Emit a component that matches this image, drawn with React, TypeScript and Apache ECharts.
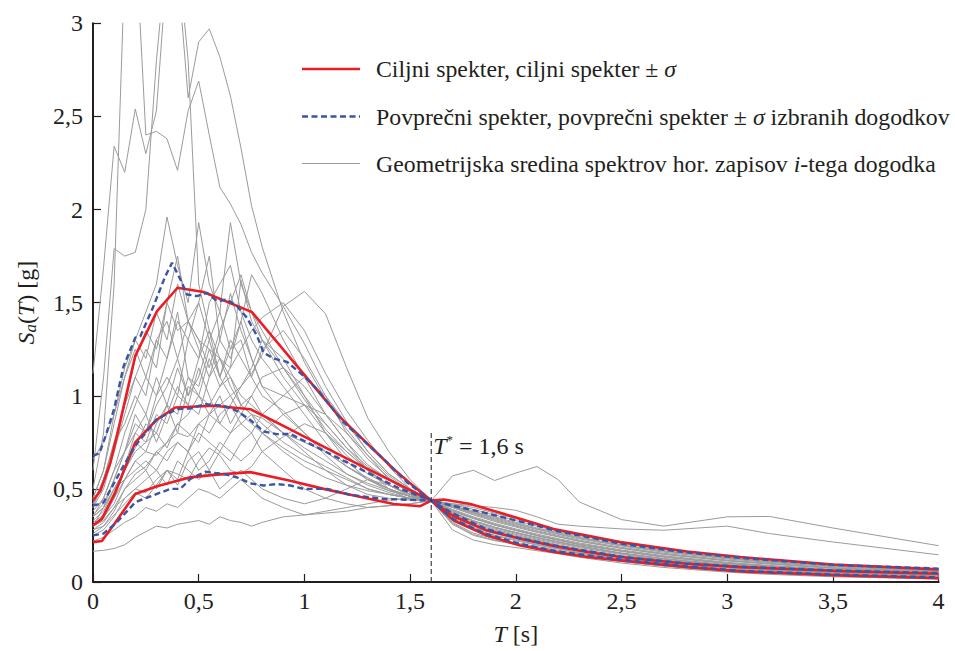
import React, { useEffect, useRef } from "react";
import * as echarts from "echarts";

// Periods (s) at which the recorded spectra are sampled
const periods = [0, 0.05, 0.1, 0.15, 0.2, 0.25, 0.3, 0.35, 0.4, 0.45, 0.5, 0.55, 0.6, 0.65, 0.7, 0.75, 0.8, 0.9, 1.0, 1.1, 1.2, 1.3, 1.4, 1.5, 1.6, 1.7, 1.8, 1.9, 2.0, 2.1, 2.2, 2.3, 2.5, 2.7, 3.0, 3.2, 3.5, 4.0];

// Geometric-mean spectra of the selected records (Sa in g)
const rec01 = [1.12, 1.69, 2.34, 2.2, 2.54, 2.3, 2.53, 3.3, 3.4, 2.8, 1.6, 1.35, 1.2, 1.1, 1.0, 0.95, 0.9, 0.8, 0.72, 0.65, 0.58, 0.53, 0.49, 0.46, 0.437, 0.4, 0.365, 0.33, 0.3, 0.27, 0.245, 0.22, 0.182, 0.15, 0.115, 0.098, 0.075, 0.053];
const rec02 = [0.5, 0.8, 1.6, 3.3, 3.5, 2.4, 2.42, 2.38, 2.21, 2.53, 2.69, 2.4, 2.12, 2.03, 1.92, 1.77, 1.66, 1.48, 1.28, 1.05, 0.86, 0.7, 0.58, 0.5, 0.437, 0.42, 0.4, 0.37, 0.34, 0.31, 0.28, 0.255, 0.215, 0.18, 0.14, 0.12, 0.095, 0.07];
const rec03 = [0.6, 1.1, 1.79, 1.75, 1.77, 2.0, 2.8, 3.4, 3.3, 2.6, 2.9, 2.97, 2.82, 2.61, 2.33, 2.02, 1.8, 1.45, 1.18, 0.98, 0.82, 0.68, 0.57, 0.49, 0.437, 0.41, 0.38, 0.35, 0.32, 0.29, 0.265, 0.24, 0.2, 0.168, 0.13, 0.11, 0.087, 0.062];
const rec04 = [0.45, 0.6, 0.9, 1.15, 1.3, 1.45, 1.6, 1.96, 1.7, 1.5, 1.93, 1.6, 1.45, 1.93, 1.6, 1.45, 1.35, 1.15, 0.98, 0.82, 0.7, 0.6, 0.52, 0.47, 0.437, 0.41, 0.375, 0.345, 0.315, 0.285, 0.26, 0.236, 0.196, 0.165, 0.128, 0.108, 0.085, 0.06];
const rec05 = [0.42, 0.55, 0.75, 0.95, 1.1, 1.25, 1.15, 1.5, 1.35, 1.4, 1.3, 1.25, 1.2, 1.15, 1.62, 1.4, 1.3, 1.15, 1.0, 0.85, 0.72, 0.62, 0.55, 0.48, 0.437, 0.385, 0.345, 0.31, 0.28, 0.252, 0.228, 0.205, 0.168, 0.137, 0.102, 0.086, 0.065, 0.045];
const rec06 = [0.3, 0.33, 0.4, 0.5, 0.58, 0.62, 0.7, 0.75, 0.8, 0.78, 0.85, 0.9, 0.95, 1.0, 1.05, 1.12, 1.22, 1.48, 1.56, 1.44, 1.15, 0.88, 0.7, 0.55, 0.437, 0.37, 0.325, 0.29, 0.262, 0.236, 0.212, 0.19, 0.152, 0.122, 0.09, 0.075, 0.056, 0.038];
const rec07 = [0.35, 0.4, 0.5, 0.55, 0.65, 0.7, 0.68, 0.75, 0.85, 0.9, 1.0, 0.95, 1.05, 1.15, 1.25, 1.35, 1.42, 1.5, 1.35, 1.12, 0.92, 0.76, 0.62, 0.5, 0.437, 0.4, 0.36, 0.325, 0.295, 0.266, 0.242, 0.218, 0.18, 0.148, 0.113, 0.096, 0.073, 0.052];
const rec08 = [0.4, 0.5, 0.7, 0.9, 1.1, 1.0, 1.3, 1.4, 1.2, 1.4, 1.5, 1.3, 1.1, 1.0, 0.9, 0.85, 0.8, 0.72, 0.65, 0.6, 0.55, 0.5, 0.47, 0.45, 0.437, 0.355, 0.305, 0.272, 0.245, 0.22, 0.196, 0.174, 0.138, 0.11, 0.08, 0.066, 0.048, 0.031];
const rec09 = [0.35, 0.45, 0.6, 0.8, 0.95, 1.1, 1.0, 1.2, 1.4, 1.3, 1.5, 1.75, 1.3, 1.55, 1.35, 1.2, 1.05, 0.9, 0.8, 0.7, 0.62, 0.55, 0.5, 0.46, 0.437, 0.38, 0.34, 0.305, 0.276, 0.248, 0.224, 0.2, 0.164, 0.133, 0.099, 0.083, 0.063, 0.043];
const rec10 = [0.3, 0.4, 0.55, 0.7, 0.9, 0.8, 1.0, 1.1, 1.0, 1.3, 1.2, 1.5, 1.6, 1.7, 1.45, 1.3, 1.2, 1.05, 0.9, 0.75, 0.62, 0.55, 0.5, 0.46, 0.437, 0.415, 0.39, 0.36, 0.33, 0.3, 0.272, 0.248, 0.208, 0.174, 0.135, 0.115, 0.09, 0.066];
const rec11 = [0.45, 0.6, 0.85, 1.1, 1.3, 1.2, 1.45, 1.3, 1.6, 1.4, 1.3, 1.15, 1.35, 1.5, 1.65, 1.45, 1.3, 1.1, 0.95, 0.8, 0.68, 0.58, 0.52, 0.47, 0.437, 0.335, 0.285, 0.252, 0.226, 0.202, 0.18, 0.158, 0.123, 0.097, 0.07, 0.056, 0.04, 0.026];
const rec12 = [0.4, 0.55, 0.75, 0.85, 1.0, 0.9, 1.1, 0.95, 1.15, 1.0, 1.2, 1.35, 1.1, 1.25, 1.4, 1.65, 1.55, 1.3, 1.1, 0.9, 0.75, 0.63, 0.55, 0.48, 0.437, 0.365, 0.318, 0.284, 0.256, 0.23, 0.207, 0.185, 0.148, 0.118, 0.087, 0.072, 0.054, 0.036];
const rec13 = [0.38, 0.45, 0.6, 0.7, 0.8, 0.75, 0.9, 0.85, 1.0, 0.95, 0.9, 1.1, 1.3, 1.2, 1.4, 1.2, 1.05, 1.0, 1.1, 1.0, 0.85, 0.7, 0.58, 0.5, 0.437, 0.315, 0.255, 0.225, 0.205, 0.185, 0.165, 0.145, 0.112, 0.087, 0.061, 0.048, 0.034, 0.021];
const rec14 = [0.33, 0.38, 0.5, 0.6, 0.75, 0.7, 0.85, 0.95, 0.8, 1.05, 1.0, 0.9, 1.0, 0.85, 0.95, 1.0, 0.9, 0.8, 0.75, 0.7, 0.62, 0.56, 0.5, 0.46, 0.437, 0.35, 0.3, 0.266, 0.24, 0.215, 0.192, 0.17, 0.135, 0.107, 0.078, 0.064, 0.046, 0.03];
const rec15 = [0.3, 0.35, 0.42, 0.55, 0.65, 0.6, 0.7, 0.65, 0.75, 0.7, 0.85, 0.8, 0.9, 0.95, 0.85, 0.8, 0.9, 1.0, 0.95, 0.85, 0.72, 0.6, 0.52, 0.47, 0.437, 0.39, 0.35, 0.315, 0.285, 0.257, 0.233, 0.21, 0.172, 0.141, 0.106, 0.089, 0.068, 0.047];
const rec16 = [0.28, 0.3, 0.38, 0.5, 0.55, 0.6, 0.5, 0.6, 0.55, 0.7, 0.6, 0.65, 0.75, 0.7, 0.65, 0.7, 0.8, 0.9, 0.95, 0.9, 0.8, 0.68, 0.55, 0.48, 0.437, 0.33, 0.28, 0.248, 0.222, 0.198, 0.177, 0.155, 0.12, 0.095, 0.068, 0.054, 0.039, 0.025];
const rec17 = [0.25, 0.28, 0.35, 0.45, 0.5, 0.55, 0.6, 0.52, 0.65, 0.6, 0.55, 0.6, 0.5, 0.55, 0.6, 0.55, 0.5, 0.45, 0.42, 0.45, 0.5, 0.55, 0.52, 0.47, 0.437, 0.28, 0.225, 0.2, 0.185, 0.168, 0.152, 0.133, 0.102, 0.078, 0.053, 0.041, 0.028, 0.016];
const rec18 = [0.165, 0.17, 0.18, 0.2, 0.24, 0.27, 0.3, 0.29, 0.31, 0.32, 0.33, 0.31, 0.35, 0.33, 0.32, 0.3, 0.32, 0.35, 0.36, 0.37, 0.38, 0.4, 0.41, 0.42, 0.437, 0.31, 0.25, 0.222, 0.202, 0.182, 0.162, 0.142, 0.11, 0.085, 0.059, 0.047, 0.033, 0.02];
const rec19 = [0.22, 0.24, 0.28, 0.32, 0.35, 0.4, 0.38, 0.42, 0.4, 0.45, 0.5, 0.48, 0.45, 0.5, 0.55, 0.5, 0.45, 0.4, 0.36, 0.38, 0.4, 0.42, 0.44, 0.45, 0.437, 0.375, 0.33, 0.295, 0.266, 0.24, 0.216, 0.193, 0.155, 0.125, 0.092, 0.077, 0.058, 0.04];
const rec20 = [0.28, 0.32, 0.4, 0.45, 0.5, 0.48, 0.55, 0.6, 0.52, 0.65, 0.7, 0.6, 0.7, 0.65, 0.75, 0.8, 0.7, 0.6, 0.5, 0.45, 0.42, 0.4, 0.41, 0.42, 0.437, 0.405, 0.37, 0.335, 0.305, 0.275, 0.25, 0.225, 0.186, 0.154, 0.118, 0.1, 0.077, 0.055];
const rec21 = [0.66, 0.75, 0.9, 1.1, 1.25, 1.1, 1.3, 1.2, 1.45, 1.1, 1.0, 1.2, 1.05, 1.1, 0.95, 0.9, 0.85, 0.75, 0.68, 0.62, 0.56, 0.5, 0.47, 0.45, 0.437, 0.36, 0.31, 0.278, 0.25, 0.225, 0.2, 0.178, 0.141, 0.113, 0.082, 0.068, 0.05, 0.033];
const rec22 = [0.35, 0.4, 0.5, 0.6, 0.7, 0.75, 0.8, 0.72, 0.85, 0.8, 0.75, 0.9, 0.85, 0.8, 0.9, 1.0, 1.1, 1.15, 1.05, 0.9, 0.75, 0.6, 0.5, 0.44, 0.437, 0.57, 0.6, 0.545, 0.585, 0.62, 0.55, 0.43, 0.335, 0.3, 0.35, 0.352, 0.29, 0.195];
const rec23 = [0.3, 0.34, 0.45, 0.55, 0.6, 0.65, 0.6, 0.7, 0.75, 0.7, 0.8, 0.75, 0.7, 0.8, 0.85, 0.9, 0.88, 0.8, 0.7, 0.6, 0.52, 0.47, 0.45, 0.44, 0.437, 0.42, 0.41, 0.4, 0.385, 0.35, 0.31, 0.3, 0.285, 0.278, 0.3, 0.26, 0.215, 0.146];
const rec24 = [0.42, 0.55, 0.7, 0.95, 1.2, 1.35, 1.25, 1.5, 1.75, 1.4, 1.25, 1.1, 1.2, 1.05, 0.95, 0.9, 0.8, 0.7, 0.62, 0.56, 0.52, 0.49, 0.47, 0.45, 0.437, 0.405, 0.372, 0.34, 0.31, 0.282, 0.256, 0.232, 0.193, 0.16, 0.124, 0.105, 0.082, 0.058];
const rec25 = [0.32, 0.36, 0.45, 0.6, 0.72, 0.85, 0.8, 0.95, 0.9, 1.1, 1.05, 1.25, 1.1, 1.3, 1.2, 1.1, 1.25, 1.35, 1.2, 1.0, 0.8, 0.66, 0.56, 0.48, 0.437, 0.385, 0.342, 0.306, 0.277, 0.25, 0.225, 0.202, 0.166, 0.135, 0.1, 0.084, 0.064, 0.044];
const rec26 = [0.26, 0.3, 0.36, 0.42, 0.48, 0.45, 0.52, 0.6, 0.58, 0.55, 0.65, 0.72, 0.68, 0.6, 0.58, 0.62, 0.7, 0.78, 0.85, 0.8, 0.7, 0.6, 0.52, 0.46, 0.437, 0.32, 0.262, 0.232, 0.21, 0.19, 0.17, 0.15, 0.116, 0.091, 0.064, 0.051, 0.036, 0.023];
const rec27 = [0.36, 0.42, 0.55, 0.7, 0.85, 0.8, 0.95, 1.05, 1.2, 1.0, 1.1, 1.3, 1.45, 1.25, 1.3, 1.1, 1.0, 0.92, 0.8, 0.68, 0.58, 0.52, 0.48, 0.45, 0.437, 0.372, 0.328, 0.294, 0.266, 0.24, 0.216, 0.194, 0.156, 0.126, 0.093, 0.078, 0.058, 0.04];
const rec28 = [0.3, 0.36, 0.48, 0.62, 0.8, 0.9, 0.75, 0.9, 1.05, 0.95, 1.15, 1.0, 0.85, 0.95, 1.05, 1.15, 1.3, 1.2, 1.0, 0.8, 0.65, 0.55, 0.49, 0.46, 0.437, 0.342, 0.292, 0.26, 0.233, 0.209, 0.187, 0.165, 0.13, 0.103, 0.075, 0.061, 0.044, 0.028];

const grayRecords = [rec01, rec02, rec03, rec04, rec05, rec06, rec07, rec08, rec09, rec10, rec11, rec12, rec13, rec14, rec15, rec16, rec17, rec18, rec19, rec20, rec21, rec22, rec23, rec24, rec25, rec26, rec27, rec28];

// Target (conditional mean) spectrum and +/- sigma, [T, Sa]
const targetUpper = [[0, 0.437], [0.035, 0.49], [0.082, 0.64], [0.113, 0.785], [0.2, 1.214], [0.303, 1.455], [0.4, 1.58], [0.523, 1.557], [0.752, 1.449], [1.162, 0.892], [1.422, 0.607], [1.5, 0.53], [1.6, 0.437], [1.659, 0.443], [1.785, 0.419], [1.942, 0.366], [2.179, 0.285], [2.494, 0.214], [2.81, 0.164], [3.062, 0.134], [3.5, 0.094], [4.0, 0.068]];
const targetMean = [[0, 0.303], [0.042, 0.339], [0.105, 0.48], [0.2, 0.75], [0.3, 0.87], [0.389, 0.937], [0.571, 0.946], [0.744, 0.928], [0.933, 0.82], [1.162, 0.685], [1.4, 0.55], [1.6, 0.437], [1.706, 0.353], [1.864, 0.276], [2.021, 0.232], [2.179, 0.193], [2.337, 0.161], [2.494, 0.134], [2.81, 0.098], [3.062, 0.08], [3.5, 0.06], [4.0, 0.044]];
const targetLower = [[0, 0.214], [0.042, 0.22], [0.1, 0.31], [0.2, 0.473], [0.303, 0.514], [0.46, 0.562], [0.571, 0.575], [0.744, 0.59], [0.933, 0.544], [1.091, 0.5], [1.25, 0.46], [1.422, 0.419], [1.548, 0.407], [1.6, 0.437], [1.706, 0.33], [1.864, 0.25], [2.021, 0.196], [2.179, 0.161], [2.337, 0.134], [2.494, 0.116], [2.81, 0.08], [3.062, 0.057], [3.5, 0.037], [4.0, 0.02]];

// Mean spectrum of selected records and +/- sigma, [T, Sa]
const selectedUpper = [[0, 0.678], [0.03, 0.69], [0.06, 0.785], [0.1, 0.93], [0.145, 1.16], [0.2, 1.312], [0.224, 1.32], [0.28, 1.464], [0.342, 1.642], [0.374, 1.714], [0.413, 1.625], [0.445, 1.544], [0.492, 1.535], [0.539, 1.553], [0.587, 1.508], [0.634, 1.517], [0.681, 1.482], [0.728, 1.419], [0.776, 1.321], [0.807, 1.232], [0.854, 1.2], [0.918, 1.182], [0.996, 1.107], [1.06, 1.035], [1.186, 0.857], [1.375, 0.66], [1.485, 0.536], [1.6, 0.437], [1.7, 0.41], [1.86, 0.37], [2.02, 0.325], [2.2, 0.272], [2.5, 0.205], [2.8, 0.16], [3.06, 0.13], [3.5, 0.092], [4.0, 0.072]];
const selectedMean = [[0, 0.41], [0.035, 0.42], [0.05, 0.428], [0.145, 0.625], [0.2, 0.732], [0.303, 0.875], [0.397, 0.928], [0.46, 0.932], [0.531, 0.955], [0.618, 0.946], [0.681, 0.919], [0.744, 0.87], [0.807, 0.808], [0.87, 0.794], [0.933, 0.795], [0.981, 0.768], [1.138, 0.678], [1.296, 0.589], [1.454, 0.5], [1.6, 0.437], [1.7, 0.37], [1.86, 0.285], [2.02, 0.235], [2.2, 0.192], [2.5, 0.136], [2.8, 0.1], [3.06, 0.082], [3.5, 0.062], [4.0, 0.048]];
const selectedLower = [[0, 0.25], [0.05, 0.26], [0.113, 0.321], [0.2, 0.428], [0.24, 0.446], [0.303, 0.473], [0.366, 0.5], [0.413, 0.5], [0.46, 0.553], [0.531, 0.592], [0.618, 0.58], [0.681, 0.562], [0.744, 0.53], [0.807, 0.518], [0.87, 0.526], [0.933, 0.518], [0.996, 0.5], [1.107, 0.5], [1.217, 0.468], [1.375, 0.446], [1.6, 0.437], [1.7, 0.34], [1.86, 0.258], [2.02, 0.205], [2.2, 0.163], [2.5, 0.12], [2.8, 0.085], [3.06, 0.06], [3.5, 0.04], [4.0, 0.025]];

// Conditioning period T*
const tStarLine = [[1.6, 0], [1.6, 0.812]];
const tStarLabel = "{i|T}{sup|*} = 1,6 s";

const xTicks = { min: 0, max: 4, step: 0.5 };
const yTicks = { min: 0, max: 3, step: 0.5 };

const legendTarget = "Ciljni spekter, ciljni spekter ± {i|σ}";
const legendSelected = "Povprečni spekter, povprečni spekter ± {i|σ} izbranih dogodkov";
const legendRecords = "Geometrijska sredina spektrov hor. zapisov {i|i}-tega dogodka";

const RED = "#ec1c24";
const BLUE = "#3a55a6";
const GRAY = "#9b9b9b";
const INK = "#231f20";
const F = "Liberation Serif";

export default function App() {
  const ref = useRef<HTMLDivElement>(null);

  useEffect(() => {
    const chart = echarts.init(ref.current!, null, { renderer: "svg" });
    const comma = (v: number) => String(v).replace(".", ",");
    const ital = { fontStyle: "italic", fontFamily: F, fontSize: 24, color: INK };

    const series: any[] = [];
    grayRecords.forEach((rec) => {
      series.push({
        type: "line",
        data: periods.map((t, k) => [t, rec[k]]),
        symbol: "none",
        silent: true,
        z: 2,
        lineStyle: { color: GRAY, width: 1 },
      });
    });
    [targetUpper, targetMean, targetLower].forEach((d) => {
      series.push({
        type: "line",
        data: d,
        symbol: "none",
        silent: true,
        z: 3,
        lineStyle: { color: RED, width: 2.6 },
      });
    });
    [selectedUpper, selectedMean, selectedLower].forEach((d) => {
      series.push({
        type: "line",
        data: d,
        symbol: "none",
        silent: true,
        z: 4,
        lineStyle: { color: BLUE, width: 2.4, type: [6, 3.5] },
      });
    });
    series.push({
      type: "line",
      data: tStarLine,
      symbol: "none",
      silent: true,
      z: 5,
      lineStyle: { color: "#333", width: 1.1, type: [5, 3] },
      endLabel: {
        show: true,
        formatter: tStarLabel,
        fontFamily: F,
        fontSize: 24,
        color: INK,
        distance: 2,
        offset: [0, 15],
        rich: {
          i: ital,
          sup: { fontFamily: F, fontSize: 13, color: INK, padding: [0, 0, 12, 0] },
        },
      },
    });

    const legendRows = [
      { y: 69, text: legendTarget, style: { stroke: RED, lineWidth: 2.6 } },
      { y: 116.5, text: legendSelected, style: { stroke: BLUE, lineWidth: 2.4, lineDash: [6, 3.5] } },
      { y: 163.5, text: legendRecords, style: { stroke: GRAY, lineWidth: 1 } },
    ];
    const graphic: any[] = [];
    legendRows.forEach((r) => {
      graphic.push({ type: "line", shape: { x1: 302, y1: r.y, x2: 360, y2: r.y }, style: r.style, silent: true });
      graphic.push({
        type: "text",
        x: 376,
        y: r.y,
        style: {
          text: r.text,
          fontFamily: F,
          fontSize: 23.8,
          fill: INK,
          verticalAlign: "middle",
          rich: { i: { fontStyle: "italic", fontFamily: F, fontSize: 23.8 } },
        },
        silent: true,
      });
    });

    chart.setOption({
      animation: false,
      textStyle: { fontFamily: F },
      grid: { left: 93, right: 16.4, top: 23.3, bottom: 67.7 },
      xAxis: {
        type: "value",
        min: xTicks.min,
        max: xTicks.max,
        interval: xTicks.step,
        name: "{i|T} [s]",
        nameLocation: "middle",
        nameGap: 40,
        nameTextStyle: { fontFamily: F, fontSize: 24, color: INK, rich: { i: ital } },
        axisLine: { show: true, lineStyle: { color: INK, width: 2 } },
        axisTick: { show: true, inside: true, length: 8, lineStyle: { color: INK, width: 1.2 } },
        axisLabel: { fontFamily: F, fontSize: 24, color: INK, margin: 7, formatter: comma },
        splitLine: { show: false },
      },
      yAxis: {
        type: "value",
        min: yTicks.min,
        max: yTicks.max,
        interval: yTicks.step,
        name: "{i|S}{sub|a}({i|T}) [g]",
        nameLocation: "middle",
        nameGap: 54,
        nameRotate: 90,
        nameTextStyle: {
          fontFamily: F,
          fontSize: 24,
          color: INK,
          rich: {
            i: ital,
            sub: { fontStyle: "italic", fontFamily: F, fontSize: 17, color: INK, padding: [10, 0, 0, 0] },
          },
        },
        axisLine: { show: true, lineStyle: { color: INK, width: 2 } },
        axisTick: { show: true, inside: true, length: 8, lineStyle: { color: INK, width: 1.2 } },
        axisLabel: { fontFamily: F, fontSize: 24, color: INK, margin: 10, formatter: comma },
        splitLine: { show: false },
      },
      series,
      graphic,
    });

    return () => chart.dispose();
  }, []);

  return <div ref={ref} style={{ position: "absolute", left: 0, top: 0, width: 955, height: 651 }} />;
}
